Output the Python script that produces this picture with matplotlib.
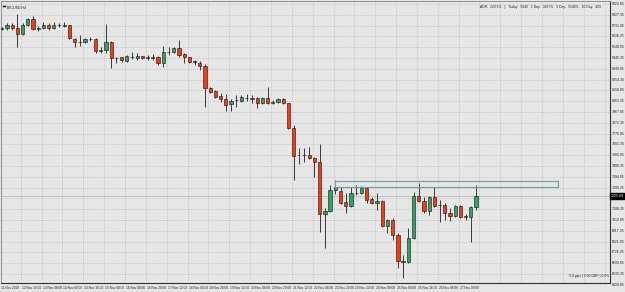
import matplotlib
matplotlib.use('Agg')
import matplotlib.pyplot as plt

# ---------------- data (BTCUSD, H4) ----------------
opens = [8702, 8708, 8737, 8708, 8655, 8737, 8788, 8704, 8708, 8735,
         8708, 8740, 8740, 8735, 8616, 8590, 8590, 8611, 8611, 8510,
         8516, 8590, 8443, 8452, 8421, 8457, 8448, 8460, 8443, 8457,
         8457, 8398, 8501, 8501, 8531, 8481, 8452, 8421, 8398, 8377,
         8177, 8154, 8109, 8083, 8036, 8074, 8068, 8094, 8094, 8089,
         8050, 8089, 8050, 8054, 8080, 8045, 7824, 7588, 7588, 7588,
         7564, 7523, 7066, 7092, 7278, 7269, 7169, 7139, 7249, 7249,
         7293, 7196, 7160, 7183, 6960, 7013, 6877, 6653, 6644, 6851,
         7228, 7183, 7092, 7214, 7145, 7145, 7072, 7051, 7137, 7048,
         7037, 7125]
highs = [8719, 8752, 8752, 8834, 8752, 8796, 8817, 8728, 8766, 8758,
         8766, 8758, 8766, 8740, 8620, 8649, 8620, 8634, 8620, 8540,
         8746, 8598, 8457, 8457, 8472, 8501, 8492, 8463, 8472, 8481,
         8463, 8552, 8540, 8540, 8604, 8487, 8457, 8427, 8421, 8392,
         8191, 8162, 8136, 8127, 8083, 8118, 8118, 8127, 8118, 8103,
         8098, 8192, 8074, 8089, 8089, 8050, 7853, 7647, 7649, 7661,
         7573, 7685, 7119, 7322, 7367, 7307, 7252, 7307, 7322, 7313,
         7307, 7219, 7249, 7190, 7024, 7028, 6895, 6703, 6939, 7263,
         7343, 7219, 7228, 7307, 7190, 7160, 7116, 7145, 7145, 7065,
         7137, 7322]
lows = [8693, 8693, 8693, 8542, 8649, 8728, 8693, 8687, 8699, 8693,
        8699, 8722, 8717, 8613, 8540, 8551, 8575, 8599, 8492, 8487,
        8492, 8360, 8398, 8413, 8413, 8434, 8428, 8434, 8428, 8428,
        8383, 8368, 8472, 8487, 8457, 8398, 8398, 8383, 8339, 8015,
        8133, 8089, 8059, 7977, 7977, 8015, 8054, 8068, 8050, 8003,
        8039, 8039, 8039, 8045, 8039, 7815, 7367, 7508, 7528, 7550,
        7390, 6909, 6762, 7086, 7243, 7152, 7077, 7130, 7234, 7240,
        7160, 7152, 7101, 6948, 6895, 6836, 6586, 6497, 6630, 6845,
        7175, 7077, 7057, 7130, 6998, 7013, 7007, 7039, 7028, 7013,
        6821, 7101]
closes = [8708, 8737, 8708, 8655, 8737, 8788, 8699, 8708, 8735, 8708,
          8740, 8741, 8731, 8620, 8590, 8589, 8611, 8611, 8510, 8519,
          8590, 8443, 8442, 8428, 8463, 8456, 8463, 8443, 8457, 8448,
          8398, 8501, 8502, 8531, 8472, 8452, 8413, 8407, 8375, 8177,
          8147, 8103, 8083, 8030, 8065, 8074, 8103, 8094, 8085, 8050,
          8089, 8045, 8059, 8080, 8045, 7824, 7581, 7587, 7587, 7564,
          7523, 7066, 7092, 7278, 7307, 7166, 7139, 7249, 7248, 7293,
          7190, 7160, 7183, 6960, 7013, 6877, 6653, 6644, 6851, 7228,
          7183, 7092, 7214, 7139, 7145, 7072, 7051, 7137, 7042, 7037,
          7125, 7225]

date_labels = ["11 Nov 2019", "12 Nov 16:00", "13 Nov 08:00", "14 Nov 00:00",
               "14 Nov 16:00", "15 Nov 08:00", "16 Nov 00:00", "16 Nov 20:00",
               "17 Nov 12:00", "18 Nov 04:00", "18 Nov 20:00", "19 Nov 12:00",
               "20 Nov 04:00", "20 Nov 20:00", "21 Nov 12:00", "22 Nov 04:00",
               "22 Nov 20:00", "23 Nov 12:00", "24 Nov 08:00", "25 Nov 00:00",
               "25 Nov 16:00", "26 Nov 08:00", "27 Nov 00:00"]
bars_per_label = 4

price_ticks = [8922.85, 8827.35, 8731.85, 8636.35, 8540.85, 8445.35, 8349.85,
               8254.35, 8158.85, 8063.35, 7967.85, 7872.35, 7776.85, 7681.35,
               7585.85, 7490.35, 7394.85, 7299.35, 7203.85, 7108.35, 7012.85,
               6917.35, 6821.85, 6726.35, 6630.85, 6535.35, 6439.85]

# resistance zone drawn on the chart
zone_start_bar = 64
zone_end_bar = 106.8
zone_top = 7356
zone_bottom = 7307

symbol_title = "BTCUSD,H4"
adr_text = "ADR:  120.5%   |   Today:  5049   1 Day:  3827%   5 Day:  5549%   10 Day:  459"
pips_text = "0.0 pips | 0.00 GBP | 0.0%"

# ---------------- style ----------------
BG = '#e6e6e6'
GRID = '#bdbdbd'
UP = '#32a367'
DOWN = '#f23c12'
WICK = '#1e1e1e'
ZONE = '#6aa6a6'
FONT = 'Liberation Sans'

W, H = 625, 292
fig = plt.figure(figsize=(W / 100, H / 100), dpi=100, facecolor=BG)
ax_left, ax_right, ax_top, ax_bot = 1, 610, 1, 283
ax = fig.add_axes([ax_left / W, (H - ax_bot) / H, (ax_right - ax_left) / W, (ax_bot - ax_top) / H])
ax.set_facecolor(BG)

n = len(opens)
x = list(range(n))
ymin, ymax = 6455.6, 8949.4
ax.set_xlim(-0.134, 116.69)
ax.set_ylim(ymin, ymax)

# grid
for p in price_ticks:
    if ymin < p < ymax:
        ax.axhline(p, color=GRID, lw=0.6, ls=(0, (1, 1.5)), zorder=0)
for k in range(1, 30):
    ax.axvline(k * bars_per_label - 0.35, color=GRID, lw=0.6, ls=(0, (1, 1.5)), zorder=0)

# candles
ax.vlines(x, lows, highs, color=WICK, lw=0.6, zorder=2)
bottoms = [min(o, c) for o, c in zip(opens, closes)]
heights = [max(abs(c - o), 0.5) for o, c in zip(opens, closes)]
colors = [UP if c >= o else DOWN for o, c in zip(opens, closes)]
ax.bar(x, heights, bottom=bottoms, width=0.62, color=colors, edgecolor='#111111',
       linewidth=0.4, zorder=3)

# bid line
ax.axhline(closes[-1], color='#c4c4c4', lw=0.7, zorder=1)

# zone rectangle
ax.plot([zone_start_bar, zone_end_bar, zone_end_bar, zone_start_bar, zone_start_bar],
        [zone_top, zone_top, zone_bottom, zone_bottom, zone_top], color=ZONE, lw=0.9, zorder=4)

# axes frame
for s in ['top', 'left']:
    ax.spines[s].set_color('#808080')
    ax.spines[s].set_linewidth(0.6)
for s in ['right', 'bottom']:
    ax.spines[s].set_color('#303030')
    ax.spines[s].set_linewidth(0.8)
ax.set_xticks([])
ax.set_yticks([])

# price labels (the one hidden behind the current-price tag is skipped)
ytr = ax.get_yaxis_transform()
step = price_ticks[0] - price_ticks[1]
for p in price_ticks:
    if abs(p - closes[-1]) < 0.6 * step:
        continue
    ax.text(1.003, p, f"{p:.2f}", transform=ytr, fontsize=2.5, family=FONT,
            color='#202020', va='center', ha='left', clip_on=False)
ax.text(1.001, closes[-1], f"{closes[-1]:.2f}", transform=ytr, fontsize=2.5, family=FONT,
        color='white', va='center', ha='left', clip_on=False,
        bbox=dict(boxstyle='square,pad=0.15', fc='black', ec='black'))

# date labels
xtr = ax.get_xaxis_transform()
for k, lab in enumerate(date_labels):
    ax.text(k * bars_per_label - 0.35 + 0.2, -0.012, lab, transform=xtr, fontsize=2.3,
            family=FONT, color='#202020', va='top', ha='left', clip_on=False)

# annotations
ax.text(0.009, 0.985, symbol_title, transform=ax.transAxes, fontsize=2.6, family=FONT,
        color='#202020', va='top', ha='left')
ax.plot([0.003, 0.007], [0.983, 0.983], transform=ax.transAxes, color='black', lw=1.0)
ax.text(0.985, 0.985, adr_text, transform=ax.transAxes, fontsize=2.4, family=FONT,
        color='#202020', va='top', ha='right')
ax.text(0.998, 0.018, pips_text, transform=ax.transAxes, fontsize=2.4, family=FONT,
        color='#202020', va='bottom', ha='right')

fig.savefig('out.png', dpi=100, facecolor=BG)
